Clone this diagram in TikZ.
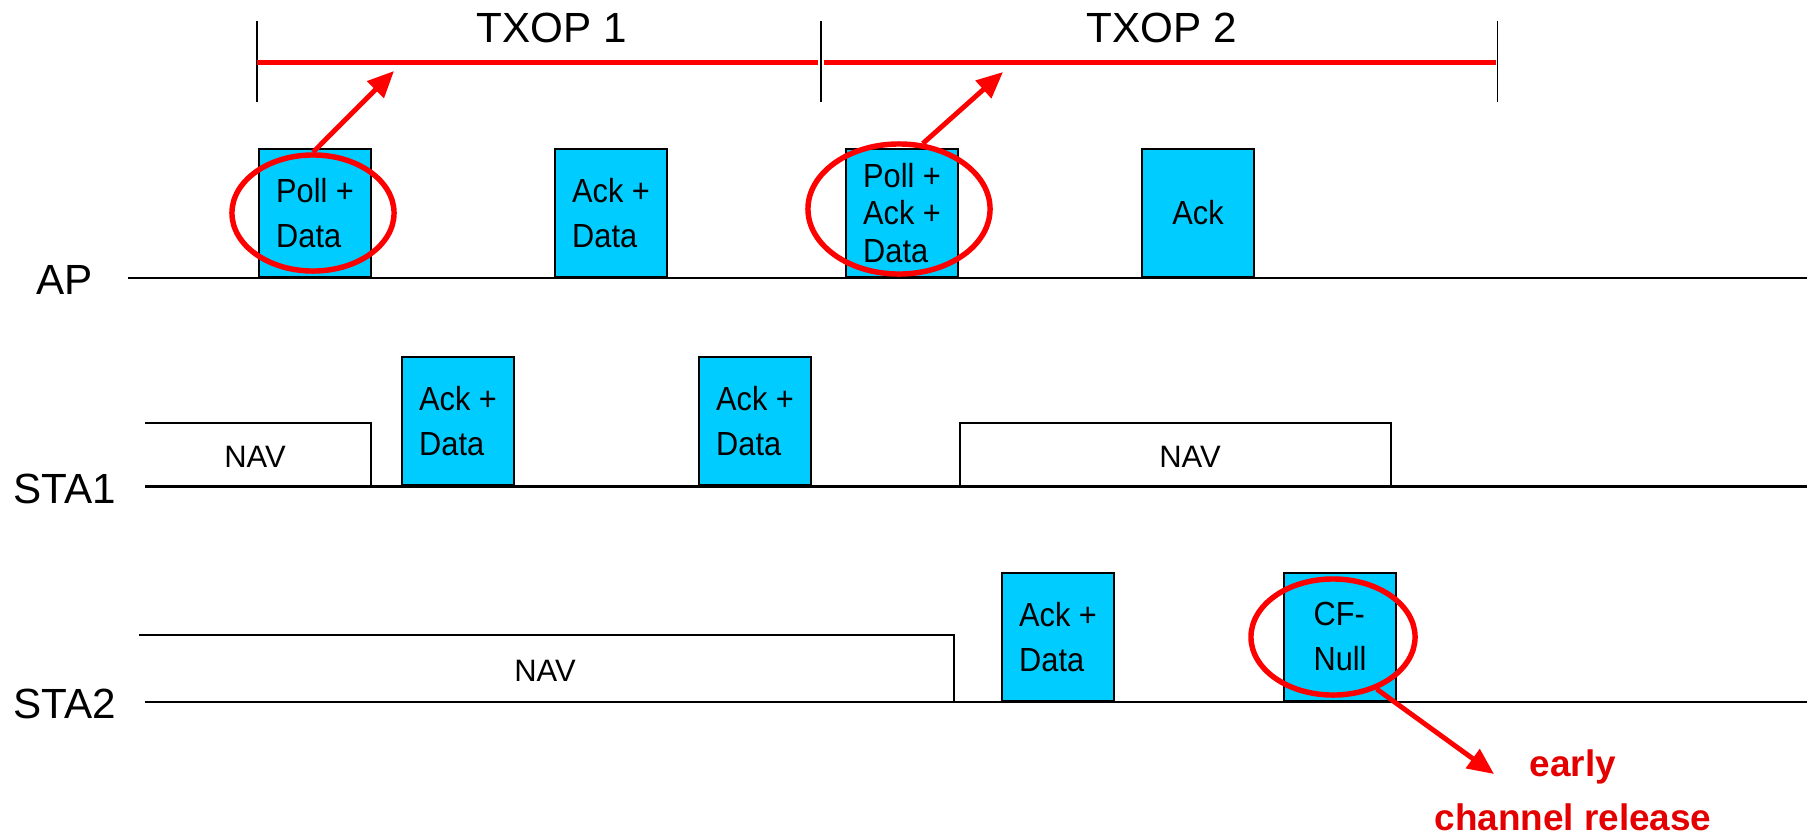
\documentclass[tikz,border=0pt]{standalone}
\usepackage{fontspec}
\setmainfont{Liberation Sans}
\newfontfamily\pktfamily[FakeStretch=0.92]{Liberation Sans}
\usetikzlibrary{arrows.meta, shapes.geometric}
\definecolor{pktcyan}{RGB}{0, 204, 255}
\definecolor{txred}{RGB}{255, 0, 0}
\definecolor{notered}{RGB}{228, 0, 0}

\tikzset{
  packet/.style={draw=black, line width=0.6pt, fill=pktcyan, minimum width=1.12cm,
    minimum height=1.28cm, inner sep=0pt, anchor=south west, align=left,
    font=\pktfamily\fontsize{9.5}{12.8}\selectfont},
  timeline/.style={line width=0.8pt},
  navline/.style={line width=0.6pt},
  navtext/.style={inner sep=0pt, font=\fontsize{8.8}{10}\selectfont},
  rowlabel/.style={inner sep=0pt, anchor=west, font=\fontsize{12}{14}\selectfont},
  txoptick/.style={line width=0.3pt},
  txopbar/.style={txred, line width=1.5pt},
  ring/.style={ellipse, draw=txred, line width=1.55pt, inner sep=0pt},
  pointer/.style={->, txred, line width=1.4pt}
}

\begin{document}
\begin{tikzpicture}[x=0.01cm, y=-0.01cm, >={Triangle[length=7.5pt, width=6.5pt]}]
\useasboundingbox (0,0) rectangle (1816,833);

% === TXOP intervals ===
\draw[txoptick] (257,21) -- (257,102);
\draw[txoptick] (821,21) -- (821,102);
\draw[txoptick] (1497,21) -- (1497,102);
\draw[txopbar] (257,62.5) -- (818,62.5);
\draw[txopbar] (824,62.5) -- (1496,62.5);
\node[inner sep=0pt, font=\fontsize{12}{14}\selectfont] (txop1) at (552,28) {TXOP 1};
\node[inner sep=0pt, font=\fontsize{12}{14}\selectfont] (txop2) at (1162,28) {TXOP 2};

% === AP ===
\node[rowlabel] (ap) at (36,280) {AP};
\draw[timeline] (128,278) -- (1807,278);
\node[packet] (pollA) at (258,278) {Poll +\\Data};
\node[packet] (ackA) at (554,278) {Ack +\\Data};
\node[packet, font=\pktfamily\fontsize{9.5}{10.7}\selectfont] (pollB) at (845,278) {Poll +\\Ack +\\Data};
\node[packet, align=center] (ackB) at (1141,278) {Ack};

% === STA1 ===
\node[rowlabel] (sta1) at (13,489) {STA1};
\draw[timeline] (145,486.5) -- (1807,486.5);
\draw[navline] (145,422.7) -- (371,422.7) -- (371,486.5);
\node[navtext] (navA) at (255,457) {NAV};
\node[packet] (staA) at (401,486.5) {Ack +\\Data};
\node[packet] (staB) at (698,486.5) {Ack +\\Data};
\draw[navline] (960,486.5) -- (960,422.7) -- (1391,422.7) -- (1391,486.5);
\node[navtext] (navB) at (1190,457) {NAV};

% === STA2 ===
\node[rowlabel] (sta2) at (13,704) {STA2};
\draw[timeline] (145,702) -- (1807,702);
\draw[navline] (139,634.7) -- (954,634.7) -- (954,702);
\node[navtext] (navC) at (545,671) {NAV};
\node[packet] (staC) at (1001,702) {Ack +\\Data};
\node[packet] (cfnull) at (1283,702) {CF-\\Null};

% === Markierungen ===
\node[ring, minimum width=1.62cm, minimum height=1.16cm] (ringA) at (313,213) {};
\node[ring, minimum width=1.82cm, minimum height=1.30cm] (ringB) at (899,209) {};
\node[ring, minimum width=1.64cm, minimum height=1.16cm] (ringC) at (1333,637) {};

\coordinate (tipA) at (394,71);
\coordinate (tipB) at (1003,72);
\coordinate (tipC) at (1494,774);
\draw[pointer] (ringA.north) -- (tipA);
\draw[pointer] (ringB.70) -- (tipB);
\draw[pointer] (ringC.-50) -- (tipC);

\node[notered, inner sep=0pt, align=center, font=\bfseries\fontsize{10.5}{15.3}\selectfont] (release) at (1573,790) {early\\channel release};

\end{tikzpicture}
\end{document}
